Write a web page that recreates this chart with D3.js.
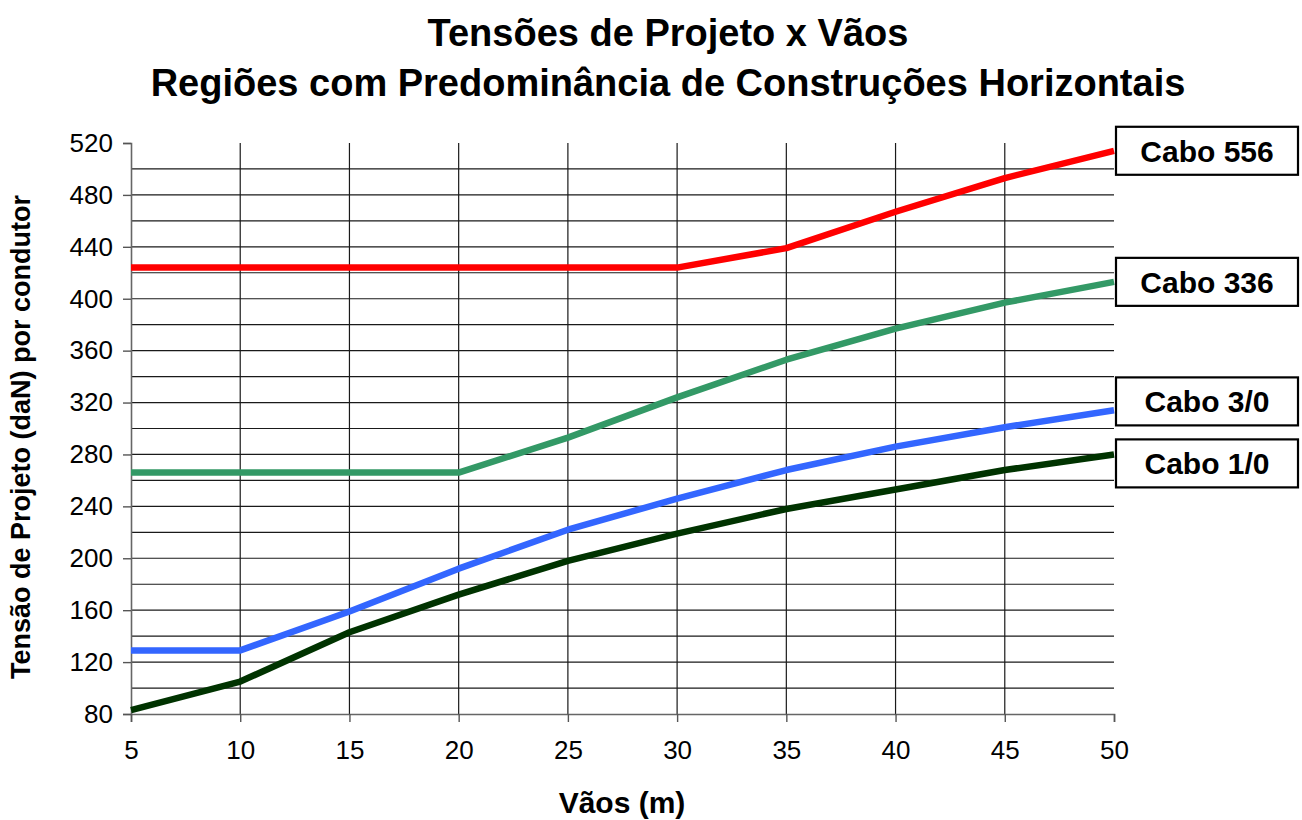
<!DOCTYPE html>
<meta charset="utf-8">
<style>
body { margin: 0; background: #fff; }
text { font-family: "Liberation Sans", Arial, sans-serif; }
</style>
<body>
<svg width="1302" height="820"></svg>
<script src="https://d3js.org/d3.v7.min.js"></script>
<script>

// data
var vaos = [5, 10, 15, 20, 25, 30, 35, 40, 45, 50];
var cabo556 = [424, 424, 424, 424, 424, 424, 439, 467, 493, 514];
var cabo336 = [266, 266, 266, 266, 293, 324, 353, 377, 397, 413];
var cabo30  = [129, 129, 159, 192, 222, 246, 268, 286, 301, 314];
var cabo10  = [83, 105, 143, 172, 198, 219, 238, 253, 268, 280];
var seriesNames = ["Cabo 556", "Cabo 336", "Cabo 3/0", "Cabo 1/0"];
var seriesColors = ["#ff0000", "#339966", "#3366ff", "#003300"];
var yTicks = [80, 120, 160, 200, 240, 280, 320, 360, 400, 440, 480, 520];

var series = [cabo556, cabo336, cabo30, cabo10].map(function(v, i) {
  return { name: seriesNames[i], color: seriesColors[i], values: v };
});

var svg = d3.select("svg");

var x = d3.scaleLinear().domain([5, 50]).range([131, 1114]);
var y = d3.scaleLinear().domain([80, 520]).range([714, 143]);

// grid
svg.append("g")
  .selectAll("line")
  .data(d3.range(100, 520, 20))
  .enter().append("line")
    .attr("x1", x(5)).attr("x2", x(50))
    .attr("y1", function(d) { return y(d); })
    .attr("y2", function(d) { return y(d); })
    .attr("stroke", "#1a1a1a")
    .attr("stroke-width", 1.2);

svg.append("g")
  .selectAll("line")
  .data(vaos.slice(1, -1))
  .enter().append("line")
    .attr("x1", function(d) { return x(d); })
    .attr("x2", function(d) { return x(d); })
    .attr("y1", y(520)).attr("y2", y(80))
    .attr("stroke", "#1a1a1a")
    .attr("stroke-width", 1.2);

// axes
var yAxis = svg.append("g")
  .attr("transform", "translate(" + x(5) + ",0)")
  .call(d3.axisLeft(y).tickValues(yTicks).tickSize(8).tickPadding(10));
var xAxis = svg.append("g")
  .attr("transform", "translate(0," + y(80) + ")")
  .call(d3.axisBottom(x).tickValues(vaos).tickSize(8).tickPadding(19));

[yAxis, xAxis].forEach(function(a) {
  a.select(".domain").attr("stroke", "#666").attr("stroke-width", 1.6);
  a.selectAll(".tick line").attr("stroke", "#555").attr("stroke-width", 1.4);
  a.selectAll("text")
    .attr("font-family", "Liberation Sans, Arial, sans-serif")
    .attr("font-size", "26px")
    .attr("fill", "#000");
});

// lines
var line = d3.line()
  .x(function(d, i) { return x(vaos[i]); })
  .y(function(d) { return y(d); });

svg.append("g")
  .selectAll("path")
  .data(series)
  .enter().append("path")
    .attr("d", function(d) { return line(d.values); })
    .attr("fill", "none")
    .attr("stroke", function(d) { return d.color; })
    .attr("stroke-width", 6.5)
    .attr("stroke-linejoin", "round");

// labels at line ends, pushed apart where they overlap
var boxH = 48, boxW = 182, gap = 14;
var labels = series.map(function(s) {
  return { name: s.name, cy: y(s.values[s.values.length - 1]) };
}).sort(function(a, b) { return a.cy - b.cy; });
for (var i = 1; i < labels.length; i++) {
  var need = boxH + gap - (labels[i].cy - labels[i - 1].cy);
  if (need > 0) {
    labels[i - 1].cy -= need / 2;
    labels[i].cy += need / 2;
  }
}

var lab = svg.append("g")
  .selectAll("g")
  .data(labels)
  .enter().append("g")
    .attr("transform", function(d) { return "translate(" + (x(50) + 2) + "," + d.cy + ")"; });
lab.append("rect")
  .attr("x", 0).attr("y", -boxH / 2)
  .attr("width", boxW).attr("height", boxH)
  .attr("fill", "#fff")
  .attr("stroke", "#000")
  .attr("stroke-width", 2.2);
lab.append("text")
  .attr("x", boxW / 2).attr("y", 0).attr("dy", "0.36em")
  .attr("text-anchor", "middle")
  .attr("font-size", "30px")
  .attr("font-weight", "bold")
  .text(function(d) { return d.name; });

// titles
svg.append("text")
  .attr("x", 668).attr("y", 46)
  .attr("text-anchor", "middle")
  .attr("font-size", "38px").attr("font-weight", "bold")
  .text("Tensões de Projeto x Vãos");
svg.append("text")
  .attr("x", 668).attr("y", 96)
  .attr("text-anchor", "middle")
  .attr("font-size", "38px").attr("font-weight", "bold")
  .text("Regiões com Predominância de Construções Horizontais");

svg.append("text")
  .attr("x", 622).attr("y", 813)
  .attr("text-anchor", "middle")
  .attr("font-size", "30px").attr("font-weight", "bold")
  .text("Vãos (m)");

svg.append("text")
  .attr("transform", "translate(30,437) rotate(-90)")
  .attr("text-anchor", "middle")
  .attr("font-size", "27px").attr("font-weight", "bold")
  .text("Tensão de Projeto (daN) por condutor");

</script>
</body>
